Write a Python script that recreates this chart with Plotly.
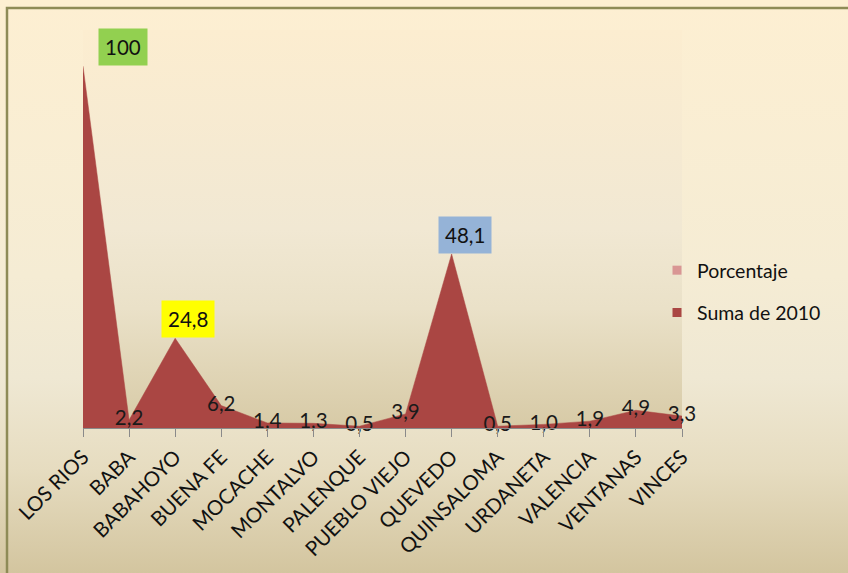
import base64
import plotly.graph_objects as go

# ---- data ----
categories = ["LOS RIOS", "BABA", "BABAHOYO", "BUENA FE", "MOCACHE", "MONTALVO",
              "PALENQUE", "PUEBLO VIEJO", "QUEVEDO", "QUINSALOMA", "URDANETA",
              "VALENCIA", "VENTANAS", "VINCES"]
suma_2010 = [100, 2.2, 24.8, 6.2, 1.4, 1.3, 0.5, 3.9, 48.1, 0.5, 1.0, 1.9, 4.9, 3.3]
series_names = ["Porcentaje", "Suma de 2010"]
boxed = {"LOS RIOS": "#92D050", "BABAHOYO": "#FFFF00", "QUEVEDO": "#95B3D7"}

W, H = 848, 573
L, R, T, B = 83, 682, 30, 428   # plot-area pixel edges
FONT = "Lato"

def fmt(v):
    return str(int(v)) if float(v).is_integer() and v >= 100 else f"{v:.1f}".replace(".", ",")

def grad_svg(stops):
    s = "".join(f'<stop offset="{o}" stop-color="{c}"/>' for o, c in stops)
    svg = ('<svg xmlns="http://www.w3.org/2000/svg" width="100" height="100" preserveAspectRatio="none">'
           '<defs><linearGradient id="g" x1="0" y1="0" x2="0" y2="1">' + s +
           '</linearGradient></defs><rect width="100" height="100" fill="url(#g)"/></svg>')
    return "data:image/svg+xml;base64," + base64.b64encode(svg.encode()).decode()

pw, ph = R - L, B - T
x_idx = list(range(len(categories)))

fig = go.Figure()
labels = ["" if c in boxed else fmt(v) for c, v in zip(categories, suma_2010)]
fig.add_trace(go.Scatter(
    x=x_idx, y=suma_2010, mode="lines+text", fill="tozeroy",
    line=dict(color="#AA4643", width=0.5), fillcolor="#AA4643",
    text=labels, textposition="middle center",
    textfont=dict(family=FONT, size=20.5, color="#1a1a1a"),
    showlegend=False, hoverinfo="skip", cliponaxis=False))

for i, (name, col) in enumerate(zip(series_names, ["#D99694", "#AA4643"])):
    fig.add_trace(go.Scatter(
        x=[None], y=[None], mode="markers", name=name, legendgroup=name,
        marker=dict(symbol="square", size=9, color=col)))

for c, col in boxed.items():
    i = categories.index(c)
    xs = 40 if i == 0 else 13
    fig.add_annotation(x=i, y=suma_2010[i], xref="x", yref="y", text=fmt(suma_2010[i]),
                       showarrow=False, bgcolor=col, borderpad=6,
                       xshift=xs, yshift=19,
                       font=dict(family=FONT, size=20.5, color="#111111"))

fig.add_layout_image(dict(
    source=grad_svg([(0, "#FDEFD2"), (0.48, "#F5ECD4"), (0.66, "#EFE8D3"),
                     (0.82, "#E6DCC0"), (1, "#D3C59F")]),
    xref="paper", yref="paper", x=-L / pw, y=1 + T / ph, sizex=W / pw, sizey=H / ph,
    xanchor="left", yanchor="top", sizing="stretch", layer="below"))
fig.add_layout_image(dict(
    source=grad_svg([(0, "#FCEDD0"), (0.5, "#F1E8D3"), (0.7, "#EAE1C8"), (1, "#D7CAA6")]),
    xref="paper", yref="paper", x=0, y=1, sizex=1, sizey=1,
    xanchor="left", yanchor="top", sizing="stretch", layer="below"))

fig.add_shape(type="rect", xref="paper", yref="paper",
              x0=(7 - L) / pw, y0=(B - 8) / ph, x1=(W + 20 - L) / pw, y1=(B - H - 20) / ph,
              line=dict(color="#8E8B57", width=2.5), fillcolor="rgba(0,0,0,0)", layer="above")

fig.update_layout(
    width=W, height=H,
    margin=dict(l=L, r=W - R, t=T, b=H - B, pad=0),
    paper_bgcolor="#F5ECD3", plot_bgcolor="rgba(0,0,0,0)",
    font=dict(family=FONT, size=19, color="#111111"),
    xaxis=dict(range=[0, len(categories) - 1], tickmode="array", tickvals=x_idx,
               ticktext=categories, tickangle=-45, showgrid=False, zeroline=False,
               showline=True, linecolor="#8A8A8A", linewidth=1,
               ticks="outside", ticklen=8, tickcolor="#8A8A8A",
               tickfont=dict(family=FONT, size=20.5, color="#111111")),
    yaxis=dict(range=[0, 110], visible=False, showgrid=False, zeroline=False),
    legend=dict(x=(657 - L) / pw, y=(B - 251) / ph, xanchor="left", yanchor="top",
                bgcolor="rgba(0,0,0,0)", font=dict(family=FONT, size=19.5, color="#111111"),
                tracegroupgap=14, traceorder="grouped"),
)

fig.write_html("out.html")
